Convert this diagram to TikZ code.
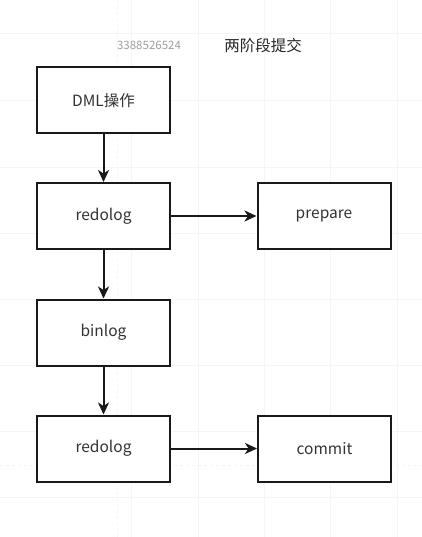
\documentclass[tikz,border=0pt]{standalone}
\usepackage{fontspec}
\setmainfont{Noto Sans CJK SC}
\usetikzlibrary{arrows.meta}
\begin{document}
\begin{tikzpicture}[x=1pt,y=-1pt,
  box/.style={draw=black!90, line width=2pt, minimum width=133pt, minimum height=66pt, inner sep=0pt, font=\fontsize{15.5}{18}\selectfont, text=black!80},
  conn/.style={line width=2pt, draw=black!90, -{Stealth[length=12pt,width=11pt,inset=3.5pt]}},
  gridline/.style={draw=black!4, line width=0.7pt}]
\useasboundingbox (0,0) rectangle (422,537);
% faint background grid
\foreach \gx in {131,198,264,330,397} \draw[gridline] (\gx,0) -- (\gx,537);
\foreach \gy in {33,100,167,233,299,365,431,497} \draw[gridline] (0,\gy) -- (422,\gy);
\draw[gridline, dashed] (117,0) -- (117,537);
\draw[gridline, dashed] (0,465) -- (422,465);
% texts
\node[text=black!38, font=\fontsize{11.5}{13}\selectfont] (wm) at (149,45) {3388526524};
\node[text=black!85, font=\fontsize{15.5}{17}\selectfont] (title) at (263,46) {两阶段提交};
% boxes
\node[box, fill=white] (dml) at (103.5,100.5) {DML操作};
\node[box, fill=white] (redo1) at (103.5,216) {redolog};
\node[box, fill=white] (prep) at (324,216) {prepare};
\node[box, fill=white] (bin) at (103.5,332.5) {binlog};
\node[box, fill=white] (redo2) at (103.5,448.5) {redolog};
\node[box, fill=white] (comm) at (324.5,448.5) {commit};
% connectors
\draw[conn] (dml) -- (redo1);
\draw[conn] (redo1) -- (prep);
\draw[conn] (redo1) -- (bin);
\draw[conn] (bin) -- (redo2);
\draw[conn] (redo2) -- (comm);
\end{tikzpicture}
\end{document}
